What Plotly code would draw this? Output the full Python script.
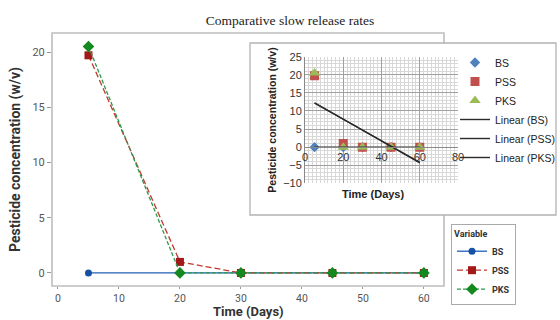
import numpy as np
import plotly.graph_objects as go

# Sampling days and measured concentrations (w/v)
days = [5, 20, 30, 45, 60]
bs = [0, 0, 0, 0, 0]
pss = [19.7, 1.0, 0, 0, 0]
pks = [20.5, 0, 0, 0, 0]

series_names = ["BS", "PSS", "PKS"]
main_x_ticks = [0, 10, 20, 30, 40, 50, 60]
main_y_ticks = [0, 5, 10, 15, 20]
inset_x_ticks = [0, 20, 40, 60, 80]
inset_y_ticks = [-10, -5, 0, 5, 10, 15, 20, 25]

W, H = 560, 320


def px(x):
    return x / W


def py(y):
    return 1 - y / H


fig = go.Figure()

# ---- main chart: concentration over time ----
main_style = {
    "BS": dict(line=dict(color="#1f5fb4", width=1.3),
               marker=dict(symbol="circle", size=7, color="#1552a6")),
    "PSS": dict(line=dict(color="#c0392b", width=1.3, dash="6px,3px"),
                marker=dict(symbol="square", size=8, color="#a31818")),
    "PKS": dict(line=dict(color="#2c9a4c", width=1.3, dash="4px,2px"),
                marker=dict(symbol="diamond", size=9, color="#13891f")),
}
for name, vals in zip(series_names, [bs, pss, pks]):
    fig.add_trace(go.Scatter(
        x=days, y=vals, name=name, mode="lines+markers",
        xaxis="x", yaxis="y", legend="legend", **main_style[name]))

# ---- inset: spreadsheet view with linear trend lines ----
inset_style = {
    "BS": dict(symbol="diamond", size=8, color="#4f81bd"),
    "PSS": dict(symbol="square", size=9, color="#c0504d"),
    "PKS": dict(symbol="triangle-up", size=10, color="#9bbb59"),
}
for name, vals in zip(series_names, [bs, pss, pks]):
    fig.add_trace(go.Scatter(
        x=days, y=vals, name=name, mode="markers",
        marker=inset_style[name], xaxis="x2", yaxis="y2", legend="legend2"))

trend_x = np.array([min(days), max(days)], dtype=float)
for name, vals in zip(series_names, [bs, pss, pks]):
    slope, icpt = np.polyfit(days, vals, 1)
    fig.add_trace(go.Scatter(
        x=trend_x, y=slope * trend_x + icpt, name=f"Linear ({name})",
        mode="lines", line=dict(color="#2a2a2a", width=1.4),
        xaxis="x2", yaxis="y2", legend="legend2"))

# inset geometry (pixels)
in_left, in_right, in_top, in_bot = 305, 458, 56.7, 183.3
in_ylo, in_yhi = -10, 25
zero_pos = py(in_bot) + (0 - in_ylo) / (in_yhi - in_ylo) * (py(in_top) - py(in_bot))

main_font = "Roboto, Open Sans, sans-serif"
inset_font = "Liberation Sans, Arial, sans-serif"

fig.update_layout(
    width=W, height=H,
    margin=dict(l=0, r=0, t=0, b=0, autoexpand=False),
    template="none",
    paper_bgcolor="white", plot_bgcolor="white",
    showlegend=True,
    title=dict(text="Comparative slow release rates", x=px(290), y=py(20),
               xanchor="center", yanchor="middle",
               font=dict(family="Liberation Serif, Times New Roman, serif",
                         size=13.5, color="#222")),
    xaxis=dict(domain=[px(52), px(444)], range=[-0.98, 63.3],
               tickvals=main_x_ticks, ticks="outside", ticklen=2,
               tickcolor="#999", showgrid=False, zeroline=False,
               showline=False,
               tickfont=dict(family=main_font, size=10.5, color="#555")),
    yaxis=dict(domain=[py(286), py(33)], range=[-1.18, 21.72],
               tickvals=main_y_ticks, ticks="outside", ticklen=4,
               tickcolor="#999", showgrid=False, zeroline=False,
               showline=False,
               tickfont=dict(family=main_font, size=11, color="#555"),
               title=dict(text="<b>Pesticide concentration (w/v)</b>", standoff=8,
                          font=dict(family=main_font, size=14, color="#333"))),
    xaxis2=dict(domain=[px(in_left), px(in_right)], range=[0, 80],
                anchor="free", position=zero_pos,
                tickvals=inset_x_ticks, ticks="", showline=True,
                linecolor="#888", linewidth=1, zeroline=False,
                showgrid=True, gridcolor="#a0a0a0", gridwidth=1,
                minor=dict(dtick=2, showgrid=True, gridcolor="#d8d8d8", gridwidth=1),
                tickfont=dict(family=inset_font, size=11, color="#333")),
    yaxis2=dict(domain=[py(in_bot), py(in_top)], range=[in_ylo, in_yhi],
                anchor="x2", tickvals=inset_y_ticks, ticks="",
                showline=True, linecolor="#888", linewidth=1, zeroline=False,
                showgrid=True, gridcolor="#a0a0a0", gridwidth=1,
                minor=dict(dtick=1, showgrid=True, gridcolor="#d8d8d8", gridwidth=1),
                tickfont=dict(family=inset_font, size=11, color="#333"),
                title=dict(text="<b>Pesticide concentration (w/v)</b>", standoff=4,
                           font=dict(family=inset_font, size=10.5, color="#222"))),
    legend=dict(x=px(451), y=py(224), xanchor="left", yanchor="top",
                bgcolor="white", bordercolor="#aaa", borderwidth=1,
                title=dict(text="<b>Variable</b>",
                           font=dict(family=main_font, size=9, color="#333")),
                font=dict(family=main_font, size=9, color="#333", weight="bold"),
                itemwidth=30, tracegroupgap=0),
    legend2=dict(x=px(455), y=py(48), xanchor="left", yanchor="top",
                 bgcolor="rgba(0,0,0,0)", borderwidth=0,
                 font=dict(family=inset_font, size=10.5, color="#222"),
                 itemwidth=30, tracegroupgap=0),
    annotations=[
        # main x-axis title
        dict(text="<b>Time (Days)</b>", xref="paper", yref="paper",
             x=px(248), y=py(319.5), xanchor="center", yanchor="bottom",
             showarrow=False, borderpad=0,
             font=dict(family=main_font, size=13, color="#333")),
        # inset x-axis title
        dict(text="<b>Time (Days)</b>", xref="paper", yref="paper",
             x=px(373), y=py(194), xanchor="center", yanchor="middle",
             showarrow=False,
             font=dict(family=inset_font, size=11, color="#222")),
    ],
    shapes=[
        # main chart frame
        dict(type="rect", xref="paper", yref="paper", layer="below",
             x0=px(52), x1=px(444), y0=py(286), y1=py(33),
             line=dict(color="#bdbdbd", width=1.6), fillcolor="rgba(0,0,0,0)"),
        # inset panel
        dict(type="rect", xref="paper", yref="paper", layer="below",
             x0=px(250), x1=px(556), y0=py(215), y1=py(43),
             line=dict(color="#b3b3b3", width=1.3), fillcolor="white"),
    ],
)

fig.write_html("out.html")
